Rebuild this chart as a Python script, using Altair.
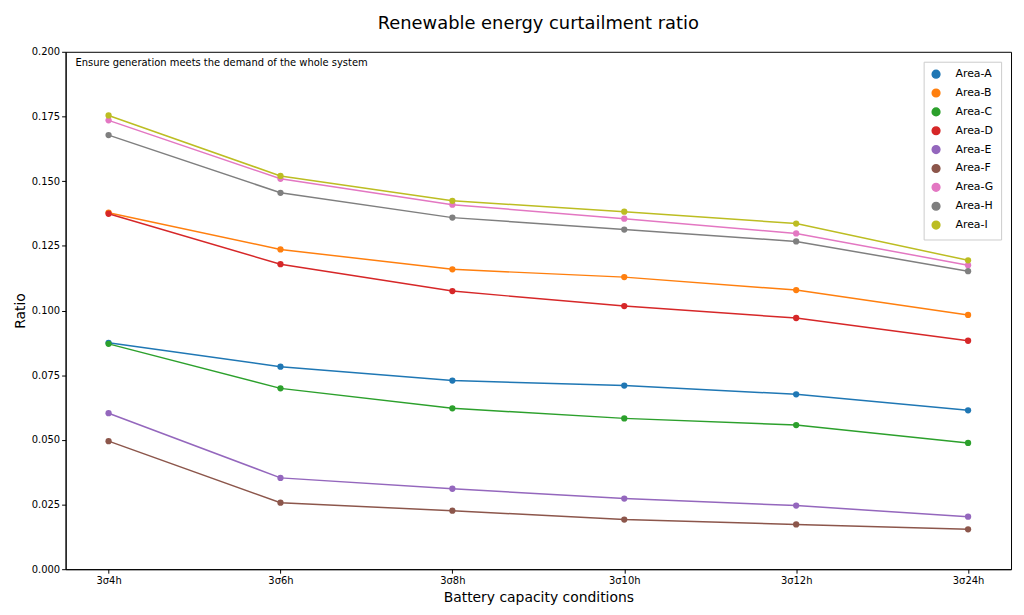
import altair as alt
import pandas as pd

conditions = ['3σ4h', '3σ6h', '3σ8h', '3σ10h', '3σ12h', '3σ24h']
areas = ['Area-A', 'Area-B', 'Area-C', 'Area-D', 'Area-E', 'Area-F', 'Area-G', 'Area-H', 'Area-I']

area_a = [0.0875, 0.0783, 0.0729, 0.0710, 0.0676, 0.0614]
area_b = [0.1378, 0.1236, 0.1159, 0.1129, 0.1079, 0.0983]
area_c = [0.0871, 0.0699, 0.0622, 0.0583, 0.0557, 0.0488]
area_d = [0.1374, 0.1179, 0.1075, 0.1017, 0.0971, 0.0883]
area_e = [0.0603, 0.0353, 0.0311, 0.0273, 0.0246, 0.0203]
area_f = [0.0495, 0.0257, 0.0226, 0.0192, 0.0173, 0.0154]
area_g = [0.1735, 0.1509, 0.1409, 0.1355, 0.1298, 0.1175]
area_h = [0.1678, 0.1455, 0.1359, 0.1313, 0.1267, 0.1152]
area_i = [0.1754, 0.1520, 0.1424, 0.1382, 0.1336, 0.1194]

colors = ['#1f77b4', '#ff7f0e', '#2ca02c', '#d62728', '#9467bd',
          '#8c564b', '#e377c2', '#7f7f7f', '#bcbd22']

series = [area_a, area_b, area_c, area_d, area_e, area_f, area_g, area_h, area_i]
rows = []
for name, vals in zip(areas, series):
    for c, v in zip(conditions, vals):
        rows.append({'condition': c, 'area': name, 'ratio': v})
df = pd.DataFrame(rows)

font = 'DejaVu Sans'

base = alt.Chart(df).encode(
    x=alt.X('condition:O', sort=conditions, title='Battery capacity conditions',
            scale=alt.Scale(type='point', padding=0.25),
            axis=alt.Axis(labelAngle=0, grid=False, tickSize=4, titleFontSize=14,
                          titleFontWeight='normal', labelFontSize=10, titlePadding=6)),
    y=alt.Y('ratio:Q', title='Ratio', scale=alt.Scale(domain=[0, 0.2], nice=False),
            axis=alt.Axis(format='.3f', values=[i * 0.025 for i in range(9)], grid=False,
                          tickSize=4, titleFontSize=14, titleFontWeight='normal',
                          labelFontSize=10)),
    color=alt.Color('area:N', sort=areas, scale=alt.Scale(domain=areas, range=colors),
                    legend=alt.Legend(title=None, orient='top-right', labelFontSize=11,
                                      symbolType='circle', symbolSize=60, rowPadding=4,
                                      strokeColor='#cccccc', padding=7,
                                      fillColor='white', offset=10, labelOffset=14)),
)

lines = base.mark_line(strokeWidth=1.5)
points = base.mark_point(filled=True, size=40, opacity=1)

note = alt.Chart(pd.DataFrame({'t': ['Ensure generation meets the demand of the whole system']})).mark_text(
    align='left', baseline='top', fontSize=10, font=font, color='black'
).encode(x=alt.value(10), y=alt.value(6), text='t:N')

chart = alt.layer(lines, points, note).properties(
    width=952, height=521,
    title=alt.TitleParams('Renewable energy curtailment ratio', fontSize=18,
                          fontWeight='normal', font=font, offset=14)
).configure_axis(
    labelFont=font, titleFont=font, domainColor='black', tickColor='black',
    labelColor='black', titleColor='black'
).configure_view(stroke='black').configure_legend(labelFont=font)

chart.save('out.html', embed_options={'renderer': 'svg', 'actions': False})
